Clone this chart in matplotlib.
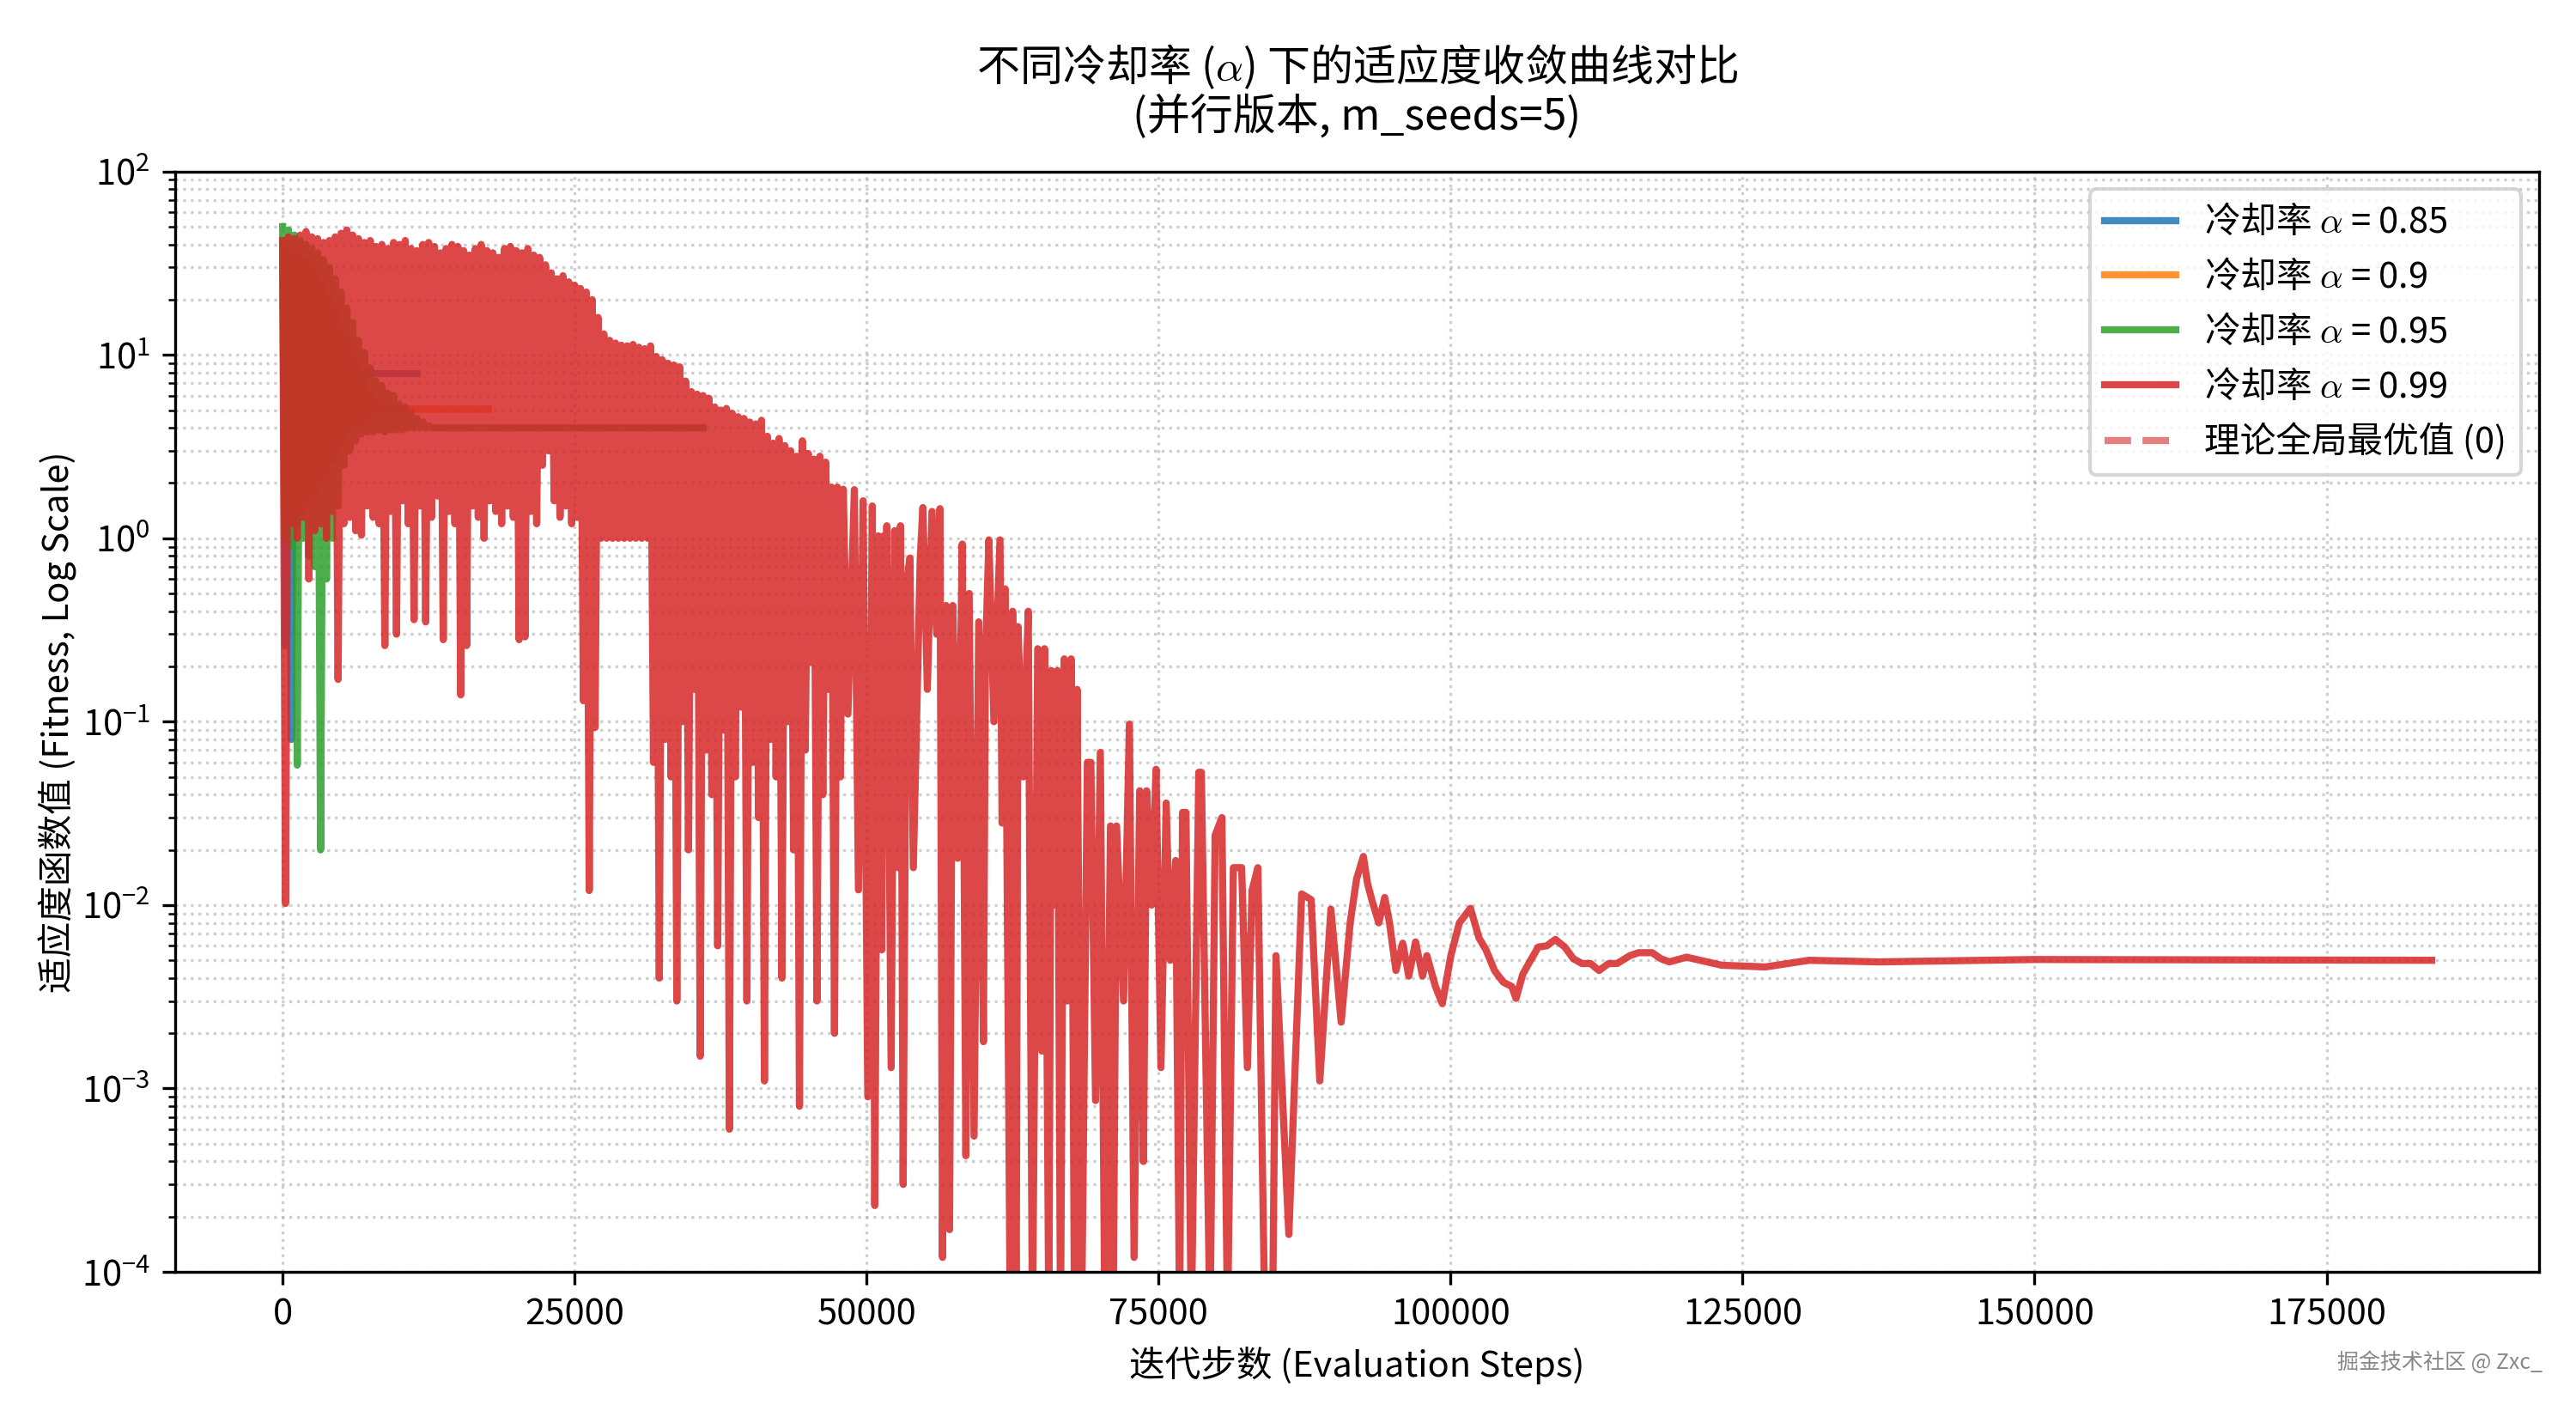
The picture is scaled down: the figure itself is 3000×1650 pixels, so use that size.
import matplotlib
matplotlib.use('Agg')
import matplotlib.pyplot as plt

plt.rcParams['font.family'] = ['Noto Sans CJK SC', 'DejaVu Sans']
plt.rcParams['mathtext.fontset'] = 'cm'
plt.rcParams['axes.unicode_minus'] = True

alphas = [0.85, 0.9, 0.95, 0.99]
colors = ['tab:blue', 'tab:orange', 'tab:green', 'tab:red']
step = 500  # one peak and one dip recorded every 500 evaluations

# alpha = 0.85
blue_peak = [38, 36, 30, 26, 22, 18, 14, 12, 10, 9, 8.5, 8.1]
blue_dip = [0.26, 0.08, 1.2, 1.5, 2.0, 2.5, 3.5, 4.5, 5.5, 6.5, 7.2, 7.8]
blue_best, blue_end = 7.9, 11500

# alpha = 0.9
orange_peak = [40, 38, 36, 34, 32, 30, 28, 24, 20, 17, 14, 12, 10, 8.5, 7.2, 6.2, 5.5]
orange_dip = [1.5, 1.2, 1.4, 1.3, 1.6, 1.8, 2.0, 2.2, 2.6, 3.0, 3.4, 3.8, 4.0, 4.3, 4.6, 4.8, 5.0]
orange_best, orange_end = 5.06, 17600

# alpha = 0.95
green_peak = [50, 48, 45, 42, 40, 38, 36, 33, 30, 26, 22, 18, 15, 12, 10.3, 8.5,
              7.2, 6.8, 6.2, 6.0, 5.4, 5.2, 4.8, 4.5, 4.3, 4.1]
green_dip = [1.0, 0.9, 0.058, 1.0, 0.8, 0.7, 0.02, 0.6, 1.0, 1.5, 2.5, 3.0, 3.4, 3.7,
             3.8, 3.8, 3.9, 3.8, 3.9, 3.9, 3.9, 4.0, 4.0, 4.0, 4.0, 4.0]
green_best, green_end = 4.0, 36000

# alpha = 0.99, dense part (0 - 48000 steps)
red_peak = [42, 44, 43, 45, 47, 44, 43, 41, 42, 44,
            46, 48, 45, 43, 41, 42, 39, 40, 38, 41,
            40, 42, 38, 37, 40, 41, 39, 36, 38, 40,
            39, 37, 35, 38, 40, 37, 36, 34, 38, 39,
            37, 36, 38, 35, 34, 31, 28, 26, 27, 25,
            24, 23, 22, 20, 16, 13, 12, 11.6, 11.3, 11.2,
            11.4, 11.0, 10.8, 11.2, 9.8, 9.4, 9.0, 8.8, 8.6, 7.2,
            6.3, 6.1, 6.0, 5.8, 5.2, 5.0, 5.1, 4.8, 4.6, 4.5,
            4.3, 4.2, 4.4, 3.6, 3.3, 3.5, 3.2, 3.0, 2.8, 3.4,
            2.9, 2.7, 2.8, 2.6, 1.9, 1.9]
red_dip = [0.0102, 1.2, 1.0, 1.3, 0.6, 1.1, 1.2, 1.0, 1.4, 0.17,
           1.2, 1.3, 1.1, 1.04, 1.5, 1.3, 1.2, 0.26, 1.4, 0.3,
           1.6, 1.2, 0.36, 1.5, 0.35, 1.3, 1.7, 0.28, 1.4, 1.2,
           0.14, 0.26, 1.5, 1.3, 1.0, 1.6, 1.4, 1.2, 1.5, 1.3,
           0.28, 0.29, 1.4, 1.2, 2.5, 3.0, 1.6, 1.3, 1.5, 1.2,
           1.3, 0.13, 0.012, 0.093, 1.0, 1.0, 1.0, 1.0, 1.0, 1.0,
           1.0, 1.0, 1.0, 0.06, 0.004, 0.08, 0.05, 0.003, 0.1, 0.02,
           0.15, 0.0015, 0.07, 0.04, 0.006, 0.09, 0.0006, 0.05, 0.12, 0.003,
           0.06, 0.03, 0.0011, 0.08, 0.05, 0.004, 0.1, 0.02, 0.0008, 0.07,
           0.21, 0.003, 0.04, 0.15, 0.002, 0.05]

# alpha = 0.99, turning points after 48000 steps
red_x = [48000, 48400, 48950, 49300, 49700, 50100, 50490, 50700, 51000, 51300,
         51440, 51600, 51730, 52100, 52400, 52700, 52900, 53130, 53420, 53710,
         54000, 54590, 54820, 55200, 55600, 56000, 56280, 56500, 56800, 57100,
         57380, 57800, 58190, 58500, 58780, 59200, 59600, 60000, 60170, 60470,
         60900, 61420, 61600, 61860, 62300, 62500, 62800, 62960, 63400, 63840,
         64200, 64650, 65000, 65230, 65600, 65820, 66100, 66340, 66600, 66920,
         67200, 67510, 67800, 68020, 68400, 68900, 69200, 69600, 70010, 70400,
         70880, 71100, 71400, 72000, 72500, 72900, 73380, 73700, 73970, 74400,
         74780, 75200, 75650, 76000, 76460, 76800, 77050, 77340, 77800, 78440,
         78660, 79400, 79840, 80420, 80900, 81400, 82110, 82600, 83000, 83500,
         84100, 84750, 85050, 86150, 87250, 88060, 88800, 89750, 90630, 91400,
         91950, 92530, 92890, 93270, 93850, 94360, 94770, 95320, 95900, 96420,
         97000, 97600, 97970, 98700, 99290, 100020, 100750, 101700, 102440, 103030,
         103760, 104500, 105230, 105600, 106180, 106770, 107500, 108240, 108970, 109780,
         110510, 111250, 111980, 112710, 113520, 114250, 115350, 116090, 117260, 118000,
         118730, 120200, 123210, 126950, 130690, 136700, 150000, 184000]
red_y = [1.85, 0.11, 1.84, 0.0121, 1.6, 0.0009, 1.5, 0.00023, 1.03, 0.0057,
         1.03, 0.0226, 1.17, 0.0013, 1.1, 0.016, 1.17, 0.0003, 0.57, 0.78,
         0.016, 0.78, 1.47, 0.15, 1.4, 0.3, 1.45, 0.00012, 0.43, 0.00017,
         0.43, 0.018, 0.93, 0.00043, 0.5, 0.00055, 0.35, 0.0018, 0.22, 0.98,
         0.1, 0.98, 0.028, 0.53, 0.00005, 0.4, 0.00005, 0.33, 0.05, 0.4,
         0.00005, 0.25, 0.0016, 0.25, 0.00005, 0.19, 0.01, 0.19, 0.00005, 0.22,
         0.003, 0.22, 0.00005, 0.15, 0.00005, 0.06, 0.06, 0.00086, 0.068, 0.00005,
         0.027, 0.00005, 0.027, 0.003, 0.097, 0.00012, 0.042, 0.0004, 0.042, 0.01,
         0.055, 0.0013, 0.036, 0.005, 0.0175, 0.00005, 0.032, 0.032, 0.00005, 0.053,
         0.053, 0.00005, 0.024, 0.03, 0.00005, 0.016, 0.016, 0.0013, 0.012, 0.016,
         0.00005, 0.00005, 0.0053, 0.00016, 0.0115, 0.0107, 0.0011, 0.0095, 0.0023, 0.008,
         0.0139, 0.0184, 0.0131, 0.0106, 0.008, 0.011, 0.008, 0.0044, 0.0062, 0.0041,
         0.0063, 0.0041, 0.0053, 0.0036, 0.0029, 0.0053, 0.008, 0.0096, 0.0066, 0.0057,
         0.0044, 0.0038, 0.0036, 0.0031, 0.0042, 0.0049, 0.0059, 0.006, 0.0065, 0.0059,
         0.0051, 0.0048, 0.0048, 0.0044, 0.0048, 0.0048, 0.0053, 0.0055, 0.0055, 0.0051,
         0.0049, 0.0052, 0.0047, 0.0046, 0.005, 0.0049, 0.00505, 0.005]


def zigzag(peaks, dips):
    xs, ys = [], []
    for k, (p, d) in enumerate(zip(peaks, dips)):
        xs += [k * step, k * step + step / 2]
        ys += [p, d]
    return xs, ys


curves = []
for pk, dp, best, end in [(blue_peak, blue_dip, blue_best, blue_end),
                          (orange_peak, orange_dip, orange_best, orange_end),
                          (green_peak, green_dip, green_best, green_end)]:
    xs, ys = zigzag(pk, dp)
    xs += [len(pk) * step, end]
    ys += [best, best]
    curves.append((xs, ys))
xs, ys = zigzag(red_peak, red_dip)
curves.append((xs + red_x, ys + red_y))

fig, ax = plt.subplots(figsize=(10, 5.5), dpi=300)
fig.subplots_adjust(left=0.068, right=0.9857, top=0.879, bottom=0.1024)

for (xs, ys), a, c in zip(curves, alphas, colors):
    ax.plot(xs, ys, color=c, lw=2, alpha=0.85, label=f'冷却率 $\\alpha$ = {a}')

ax.axhline(0, color='tab:red', ls='--', lw=2, alpha=0.6, label='理论全局最优值 (0)')

ax.set_yscale('log')
ax.set_ylim(1e-4, 1e2)
ax.set_title('不同冷却率 ($\\alpha$) 下的适应度收敛曲线对比\n(并行版本, m_seeds=5)',
             fontsize=12, pad=12, linespacing=1.1)
ax.set_xlabel('迭代步数 (Evaluation Steps)', fontsize=10)
ax.set_ylabel('适应度函数值 (Fitness, Log Scale)', fontsize=10, labelpad=1)
ax.grid(True, which='both', ls=':', alpha=0.6)
ax.legend(loc='upper right', fontsize=10)

fig.text(0.987, 0.034, '掘金技术社区 @ Zxc_', ha='right', fontsize=6, color='#888888')

plt.savefig('out.png')
